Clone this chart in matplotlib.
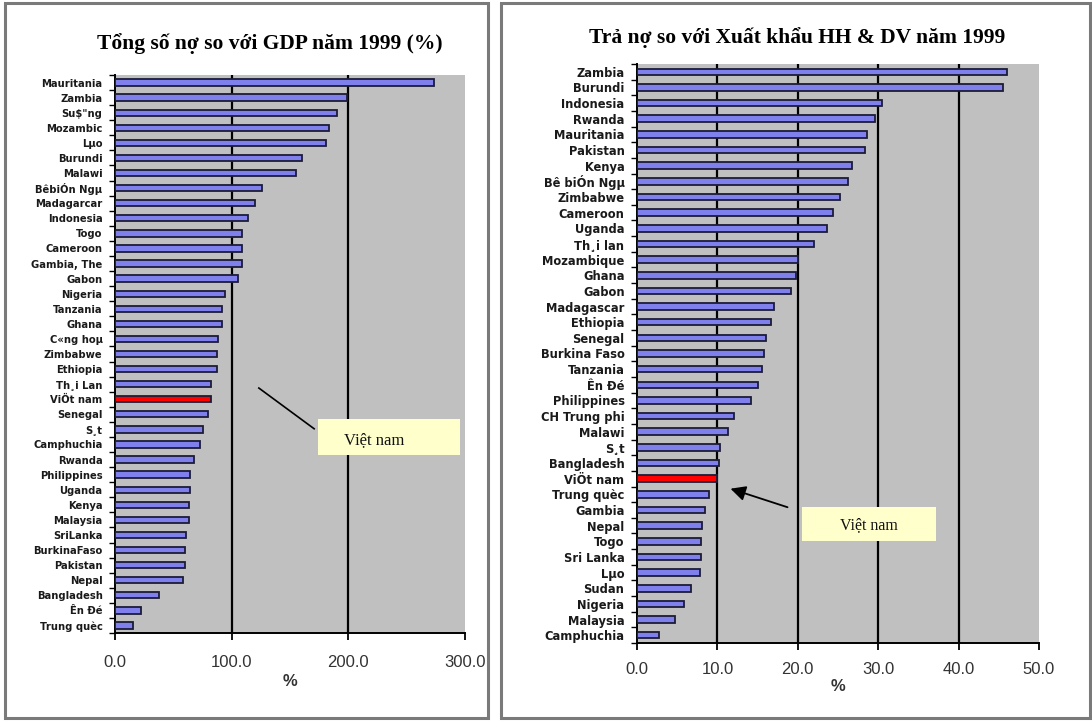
import numpy as np
import matplotlib
matplotlib.use("Agg")
import matplotlib.pyplot as plt
from matplotlib.patches import Rectangle


# Tổng số nợ so với GDP, 1999 (%)
GDP_COUNTRIES = [
    "Mauritania", "Zambia", "Su$\"ng", "Mozambic", "Lµo", "Burundi", "Malawi",
    "BêbiÓn Ngµ", "Madagarcar", "Indonesia", "Togo", "Cameroon", "Gambia, The",
    "Gabon", "Nigeria", "Tanzania", "Ghana", "C«ng hoµ", "Zimbabwe", "Ethiopia",
    "Th¸i Lan", "ViÖt nam", "Senegal", "S¸t", "Camphuchia", "Rwanda",
    "Philippines", "Uganda", "Kenya", "Malaysia", "SriLanka", "BurkinaFaso",
    "Pakistan", "Nepal", "Bangladesh", "Ên Ðé", "Trung quèc",
]
GDP_VALUES = [
    273, 199, 190, 183, 181, 160, 155,
    126, 120, 114, 108.5, 108.5, 108.5,
    105, 94, 92, 92, 88, 87, 87,
    82, 82, 80, 75, 73, 68,
    64.5, 64.5, 63, 63, 61, 60,
    60, 58, 37.5, 22.5, 15.6,
]

# Trả nợ so với xuất khẩu hàng hoá & dịch vụ, 1999 (%)
EXPORT_COUNTRIES = [
    "Zambia", "Burundi", "Indonesia", "Rwanda", "Mauritania", "Pakistan",
    "Kenya", "Bê biÓn Ngµ", "Zimbabwe", "Cameroon", "Uganda", "Th¸i lan",
    "Mozambique", "Ghana", "Gabon", "Madagascar", "Ethiopia", "Senegal",
    "Burkina Faso", "Tanzania", "Ên Ðé", "Philippines", "CH Trung phi",
    "Malawi", "S¸t", "Bangladesh", "ViÖt nam", "Trung quèc", "Gambia",
    "Nepal", "Togo", "Sri Lanka", "Lµo", "Sudan", "Nigeria", "Malaysia",
    "Camphuchia",
]
EXPORT_VALUES = [
    46.0, 45.5, 30.5, 29.6, 28.6, 28.4,
    26.8, 26.3, 25.3, 24.4, 23.6, 22.0,
    20.0, 19.8, 19.2, 17.1, 16.7, 16.1,
    15.8, 15.5, 15.0, 14.2, 12.1,
    11.3, 10.3, 10.2, 10.0, 9.0, 8.5,
    8.1, 8.0, 7.9, 7.8, 6.7, 5.9, 4.7,
    2.7,
]

HIGHLIGHT = "ViÖt nam"
NOTE_TEXT = "Việt nam"

BAR_BLUE = "#8080EC"
BAR_RED = "#FF0000"
BAR_EDGE = "#1c1c38"
PLOT_GRAY = "#C0C0C0"
NOTE_YELLOW = "#FFFFCC"

W, H = 1092, 723


def px(x, y):
    # pixel position -> figure fraction
    return x / W, 1 - y / H


def add_axes_px(fig, x0, y0, x1, y1):
    left, top = px(x0, y0)
    right, bottom = px(x1, y1)
    return fig.add_axes([left, bottom, right - left, top - bottom])


def add_frame(fig, x0, y0, x1, y1):
    left, top = px(x0, y0)
    right, bottom = px(x1, y1)
    fig.patches.append(Rectangle((left, bottom), right - left, top - bottom,
                                 transform=fig.transFigure, fill=False,
                                 edgecolor="#7a7a7a", linewidth=2.2))


def draw_bars(ax, countries, values, xmax, step, label_size, tick_pad):
    n = len(countries)
    pos = np.arange(n)
    colors = [BAR_RED if c == HIGHLIGHT else BAR_BLUE for c in countries]

    ax.set_facecolor(PLOT_GRAY)
    ax.barh(pos, values, height=0.42, color=colors, edgecolor=BAR_EDGE,
            linewidth=1.3, zorder=3)
    ax.set_xlim(0, xmax)
    ax.set_ylim(n - 0.5, -0.5)

    ticks = np.arange(0, xmax + step / 2, step)
    for t in ticks[1:-1]:
        ax.axvline(t, color="black", linewidth=1.6, zorder=2)

    ax.set_xticks(ticks)
    ax.set_xticklabels([f"{t:.1f}" for t in ticks], fontsize=12,
                       family="Liberation Sans", color="#333333")
    ax.tick_params(axis="x", direction="out", length=5, width=1.3,
                   pad=tick_pad, color="black")

    # category labels sit between small boundary ticks
    ax.set_yticks(pos)
    ax.set_yticklabels(countries, fontsize=label_size, fontweight="bold",
                       family="DejaVu Sans", color="#1a1a1a")
    ax.set_yticks(np.arange(n + 1) - 0.5, minor=True)
    ax.tick_params(axis="y", which="major", length=0, pad=9)
    ax.tick_params(axis="y", which="minor", direction="out", length=4,
                   width=1.0, color="black")

    for side in ("top", "right"):
        ax.spines[side].set_visible(False)
    for side in ("left", "bottom"):
        ax.spines[side].set_color("black")
        ax.spines[side].set_linewidth(1.4)


def add_note(ax, box, text_xy, size):
    x0, y0, x1, y1 = box
    ax.add_patch(Rectangle((x0, y0), x1 - x0, y1 - y0, transform=ax.transAxes,
                           facecolor=NOTE_YELLOW, edgecolor="none",
                           clip_on=False, zorder=6))
    ax.text(*text_xy, NOTE_TEXT, transform=ax.transAxes, ha="center",
            va="center", fontsize=size, family="Liberation Serif",
            color="#111111", zorder=7, clip_on=False)


fig = plt.figure(figsize=(W / 100, H / 100), dpi=100)
fig.patch.set_facecolor("white")

add_frame(fig, 5, 3, 488, 718)
add_frame(fig, 501, 3, 1090, 718)

# left panel: total debt / GDP
ax1 = add_axes_px(fig, 115, 75, 465, 633)
draw_bars(ax1, GDP_COUNTRIES, GDP_VALUES, 300, 100, 7.2, 11)
ax1.set_xlabel("%", fontsize=12, fontweight="bold", family="Liberation Sans",
               color="#333333", labelpad=3)
ax1.plot([0.411, 0.569], [0.439, 0.366], transform=ax1.transAxes,
         color="black", linewidth=1.2, zorder=6, clip_on=False)
add_note(ax1, (0.58, 0.319, 0.986, 0.383), (0.74, 0.346), 12)
fig.text(*px(270, 44), "Tổng số nợ so với GDP năm 1999 (%)", ha="center",
         va="center", fontsize=15.5, fontweight="bold", family="Liberation Serif")

# right panel: debt service / exports of goods & services
ax2 = add_axes_px(fig, 637, 64, 1039, 643)
draw_bars(ax2, EXPORT_COUNTRIES, EXPORT_VALUES, 50, 10, 8.3, 9)
ax2.set_xlabel("%", fontsize=12, fontweight="bold", family="Liberation Sans",
               color="#333333", labelpad=1)
ax2.annotate("", xy=(0.226, 0.268), xytext=(0.381, 0.233),
             xycoords="axes fraction", textcoords="axes fraction",
             arrowprops=dict(arrowstyle="-|>,head_length=0.9,head_width=0.45",
                             color="black", linewidth=1.3),
             zorder=6)
add_note(ax2, (0.410, 0.176, 0.744, 0.235), (0.577, 0.204), 11.5)
fig.text(*px(797, 38), "Trả nợ so với Xuất khẩu HH & DV năm 1999", ha="center",
         va="center", fontsize=15.5, fontweight="bold", family="Liberation Serif")

fig.savefig("out.png", dpi=100, facecolor="white")
